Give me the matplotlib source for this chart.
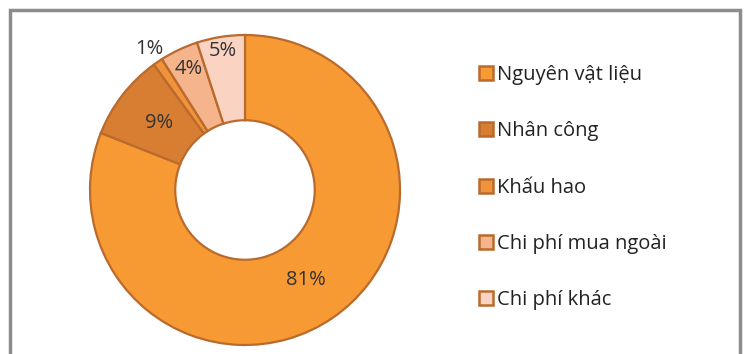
import numpy as np
import matplotlib
matplotlib.use("Agg")
import matplotlib.pyplot as plt
from matplotlib.patches import Rectangle
from matplotlib.lines import Line2D

plt.rcParams["font.family"] = ["Open Sans", "DejaVu Sans"]

# Cost structure
categories = ["Nguyên vật liệu", "Nhân công", "Khấu hao", "Chi phí mua ngoài", "Chi phí khác"]
shares = [81, 9, 1, 4, 5]
colors = ["#F89A34", "#D87E33", "#F0933A", "#F5B48C", "#FAD3C2"]
edge = "#B96A2C"

# radial position of each percentage label, in units of the outer radius
label_r = [0.70, 0.70, 1.10, 0.86, 0.91]

fig = plt.figure(figsize=(7.45, 3.54), dpi=100)

# outer frame
fig.patches.append(Rectangle((10 / 745, -0.1), 730 / 745, 1.1 - 10 / 354,
                             transform=fig.transFigure, fill=False,
                             edgecolor="#8C8C8C", linewidth=2.5))

ax = fig.add_axes([90 / 745, 9 / 354, 310 / 745, 310 / 354])
wedges, _ = ax.pie(shares, colors=colors, startangle=90, counterclock=False,
                   radius=1.0,
                   wedgeprops=dict(width=0.55, edgecolor=edge, linewidth=1.6))
for w in wedges:
    w.set_clip_on(False)
ax.set_xlim(-1, 1)
ax.set_ylim(-1, 1)
ax.set_aspect("equal")

for w, v, r in zip(wedges, shares, label_r):
    mid = np.deg2rad((w.theta1 + w.theta2) / 2)
    ax.text(r * np.cos(mid), r * np.sin(mid), f"{v}%", ha="center", va="center",
            fontsize=14.5, color="#333333")

handles = [Line2D([], [], marker="s", linestyle="none", markersize=10.5,
                  markerfacecolor=c, markeredgecolor=edge, markeredgewidth=1.8)
           for c in colors]
fig.legend(handles, categories, loc="center left", bbox_to_anchor=(0.617, 0.47),
           frameon=False, fontsize=14.5, labelspacing=1.8, handletextpad=0.15,
           handlelength=0.8, labelcolor="#222222")

fig.savefig("out.png", dpi=100)
